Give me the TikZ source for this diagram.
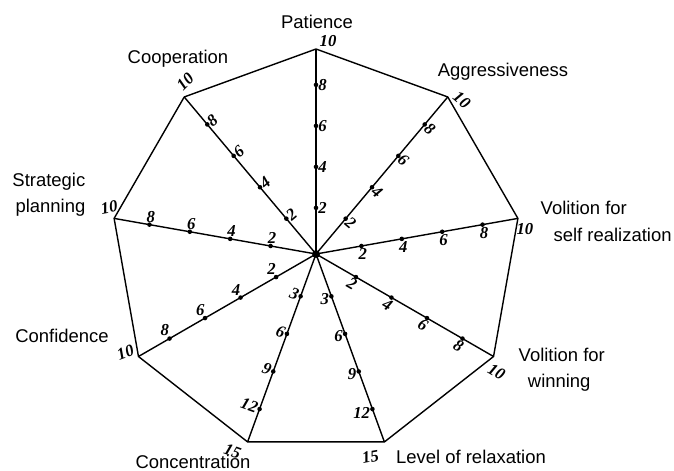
\documentclass[tikz,border=0pt]{standalone}
\usepackage{fontspec}
\setmainfont{Liberation Sans}
\newfontfamily\numfont{Liberation Serif}
\begin{document}
\begin{tikzpicture}[line width=0.8pt, line join=round,
  catlabel/.style={font=\fontsize{10.5}{15}\selectfont, inner sep=0pt},
  ticklabel/.style={font=\numfont\bfseries\itshape\fontsize{9.5}{11}\selectfont, inner sep=1pt},
  tickdot/.style={circle, fill, inner sep=0pt, minimum size=2.6pt}]
\useasboundingbox (0,0) rectangle (13.48,9.4);
\path (6.32,4.32) coordinate (c);
\foreach \i/\a/\R/\s/\r/\n/\ex/\ey/\er in {
    1/90/4.1/2/0/10/0.24/0.16/0,
    2/50/4.1/2/-40/10/0.28/-0.06/-40,
    3/10/4.1/2/0/10/0.14/-0.22/0,
    4/-30/4.1/2/-30/10/0.06/-0.30/-30,
    5/-70/4.0/3/0/15/-0.28/-0.30/10,
    6/-110/4.0/3/-20/15/-0.30/-0.18/-20,
    7/210/4.1/2/0/10/-0.26/0.08/20,
    8/170/4.1/2/0/10/-0.10/0.22/10,
    9/130/4.1/2/40/10/0.02/0.30/45}
{
  \draw (c) -- ++(\a:\R) coordinate (v\i);
  \pgfmathtruncatemacro\anc{\a+90-\r}
  \foreach \k in {1,...,4} {
    \pgfmathtruncatemacro\val{\k*\s}
    \path (c) -- (v\i) node[tickdot, pos={0.2*\k+0.025}] (t\i\k) {};
    \node[ticklabel, rotate=\r, anchor=\anc] (l\i\k) at (t\i\k) {\val};
  }
  \path (v\i) ++(\ex,\ey) node[ticklabel, rotate=\er] (e\i) {\n};
}
\draw (v1) \foreach \i in {2,...,9} {-- (v\i)} -- cycle;
\node[circle, fill, inner sep=0pt, minimum size=4.5pt] (hub) at (c) {};

%%%%%%%%%%%%%%%%%%%%%%%%%%%%%%%%%%%%%%%%

\node[catlabel] (patience) at (6.34,8.96) {Patience};
\node[catlabel] (aggr) at (10.06,7.96) {Aggressiveness};
\node[catlabel, anchor=west, align=left] (selfreal) at (10.8,4.97)
  {Volition for\\\hspace{0.7em}self realization};
\node[catlabel, anchor=west, align=left] (winning) at (10.36,2.0)
  {Volition for\\\hspace{0.5em}winning};
\node[catlabel] (relax) at (9.42,0.26) {Level of relaxation};
\node[catlabel] (concen) at (3.86,0.17) {Concentration};
\node[catlabel] (confid) at (1.24,2.68) {Confidence};
\node[catlabel, anchor=east, align=right] (strat) at (1.72,5.5)
  {Strategic\\planning};
\node[catlabel] (coop) at (3.56,8.22) {Cooperation};

\end{tikzpicture}
\end{document}
